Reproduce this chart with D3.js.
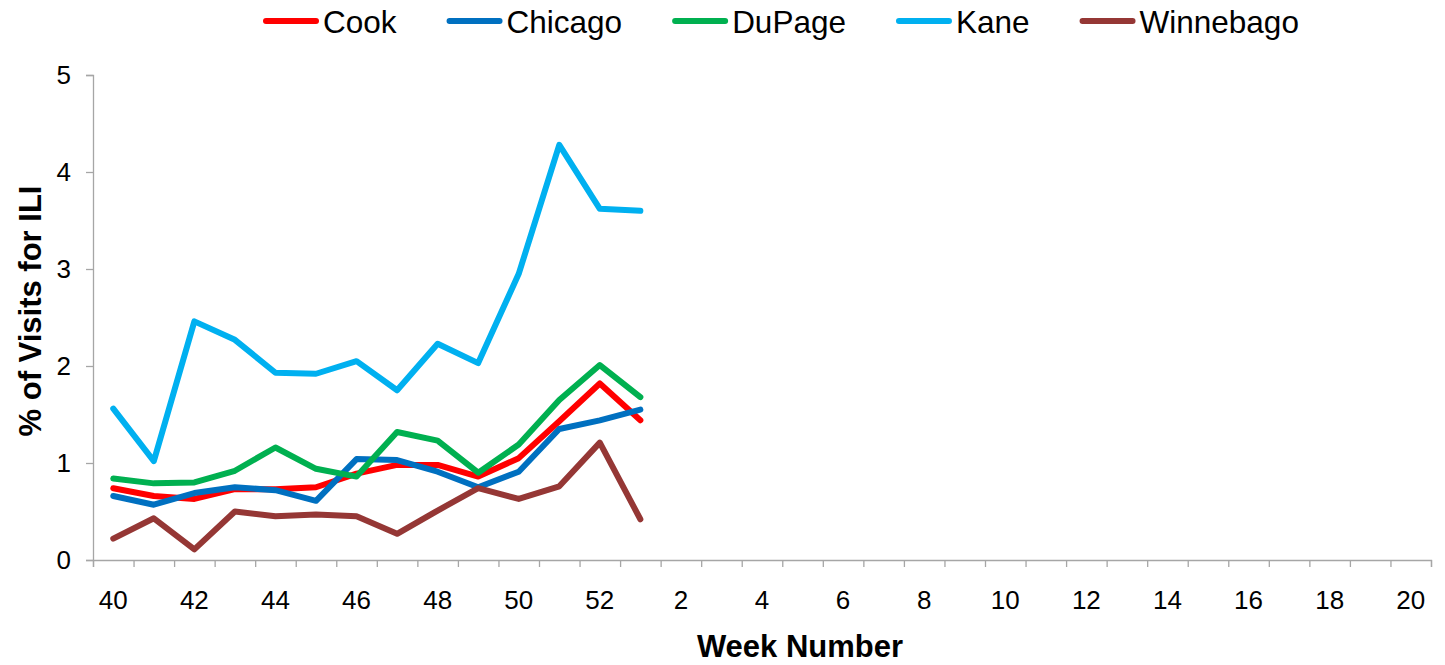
<!DOCTYPE html>
<html>
<head>
<meta charset="utf-8">
<script src="https://cdn.jsdelivr.net/npm/d3@7"></script>
<style>
  body { margin: 0; background: #fff; }
  svg text { font-family: "Liberation Sans", Arial, sans-serif; fill: #000; }
</style>
</head>
<body>
<div id="chart"></div>
<script>
// week categories on the x axis (season runs across new year)
var weeks = ['40','41','42','43','44','45','46','47','48','49','50','51','52',
  '1','2','3','4','5','6','7','8','9','10','11','12','13','14','15','16','17','18','19','20'];
var weekLabels = ['40','42','44','46','48','50','52','2','4','6','8','10','12','14','16','18','20'];
var yTicks = [0, 1, 2, 3, 4, 5];

// % of visits for ILI, weeks 40..52 and 1
var cook      = [0.74, 0.66, 0.63, 0.73, 0.73, 0.75, 0.89, 0.98, 0.98, 0.86, 1.05, 1.43, 1.82, 1.44];
var chicago   = [0.66, 0.57, 0.69, 0.75, 0.72, 0.61, 1.04, 1.03, 0.91, 0.75, 0.91, 1.35, 1.44, 1.55];
var dupage    = [0.84, 0.79, 0.80, 0.92, 1.16, 0.94, 0.86, 1.32, 1.23, 0.90, 1.19, 1.65, 2.01, 1.68];
var kane      = [1.56, 1.02, 2.46, 2.27, 1.93, 1.92, 2.05, 1.75, 2.23, 2.03, 2.95, 4.28, 3.62, 3.60];
var winnebago = [0.22, 0.43, 0.11, 0.50, 0.45, 0.47, 0.45, 0.27, 0.51, 0.74, 0.63, 0.76, 1.21, 0.42];

var seriesNames = ['Cook', 'Chicago', 'DuPage', 'Kane', 'Winnebago'];
var seriesValues = [cook, chicago, dupage, kane, winnebago];
var colors = ['#FF0000', '#0070C0', '#00B050', '#00B0F0', '#953735'];

var W = 1445, H = 665;
var margin = {top: 75, right: 14, bottom: 105, left: 93};
var width = W - margin.left - margin.right,
    height = H - margin.top - margin.bottom;
var axisColor = '#a6a6a6';

var svg = d3.select('#chart').append('svg')
  .attr('width', W)
  .attr('height', H);

var g = svg.append('g')
  .attr('transform', 'translate(' + margin.left + ',' + margin.top + ')');

// scales
var x = d3.scaleBand().domain(weeks).range([0, width]).padding(0);
var xEdge = d3.scaleLinear().domain([0, weeks.length]).range([0, width]);
var y = d3.scaleLinear().domain([0, 5]).range([height, 0]);

// y axis
var yAxis = g.append('g')
  .call(d3.axisLeft(y).tickValues(yTicks).tickSize(7).tickPadding(15).tickFormat(d3.format('d')));
yAxis.select('.domain').attr('stroke', axisColor).attr('stroke-width', 1.3);
yAxis.selectAll('.tick line').attr('stroke', axisColor).attr('stroke-width', 1.3);
yAxis.selectAll('.tick text').style('font-size', '26px');

// x axis: tick marks between categories
var xTickAxis = g.append('g')
  .attr('transform', 'translate(0,' + height + ')')
  .call(d3.axisBottom(xEdge).tickValues(d3.range(0, weeks.length + 1)).tickSize(7).tickFormat(''));
xTickAxis.select('.domain').attr('stroke', axisColor).attr('stroke-width', 1.3);
xTickAxis.selectAll('.tick line').attr('stroke', axisColor).attr('stroke-width', 1.3);

// x axis: labels on every other week
var xLabelAxis = g.append('g')
  .attr('transform', 'translate(0,' + height + ')')
  .call(d3.axisBottom(x).tickValues(weekLabels).tickSize(0).tickPadding(31));
xLabelAxis.select('.domain').remove();
xLabelAxis.selectAll('.tick text').style('font-size', '26px');

// axis titles
svg.append('text')
  .attr('x', margin.left + width / 2 + 38)
  .attr('y', 657)
  .attr('text-anchor', 'middle')
  .style('font-size', '31px')
  .style('font-weight', 'bold')
  .text('Week Number');

svg.append('text')
  .attr('transform', 'translate(41,' + 311 + ') rotate(-90)')
  .attr('text-anchor', 'middle')
  .style('font-size', '31px')
  .style('font-weight', 'bold')
  .text('% of Visits for ILI');

// lines
var line = d3.line()
  .x(function (d, i) { return x(weeks[i]) + x.bandwidth() / 2; })
  .y(function (d) { return y(d); });

seriesValues.forEach(function (vals, k) {
  g.append('path')
    .datum(vals)
    .attr('fill', 'none')
    .attr('stroke', colors[k])
    .attr('stroke-width', 6)
    .attr('stroke-linejoin', 'round')
    .attr('stroke-linecap', 'round')
    .attr('d', line);
});

// legend
var legend = svg.append('g');
var lx = 263;
seriesNames.forEach(function (name, k) {
  legend.append('line')
    .attr('x1', lx + 3).attr('x2', lx + 53)
    .attr('y1', 21).attr('y2', 21)
    .attr('stroke', colors[k])
    .attr('stroke-width', 6)
    .attr('stroke-linecap', 'round');
  var t = legend.append('text')
    .attr('x', lx + 60)
    .attr('y', 33)
    .style('font-size', '31.5px')
    .text(name);
  lx += 60 + t.node().getComputedTextLength() + 50;
});
</script>
</body>
</html>
